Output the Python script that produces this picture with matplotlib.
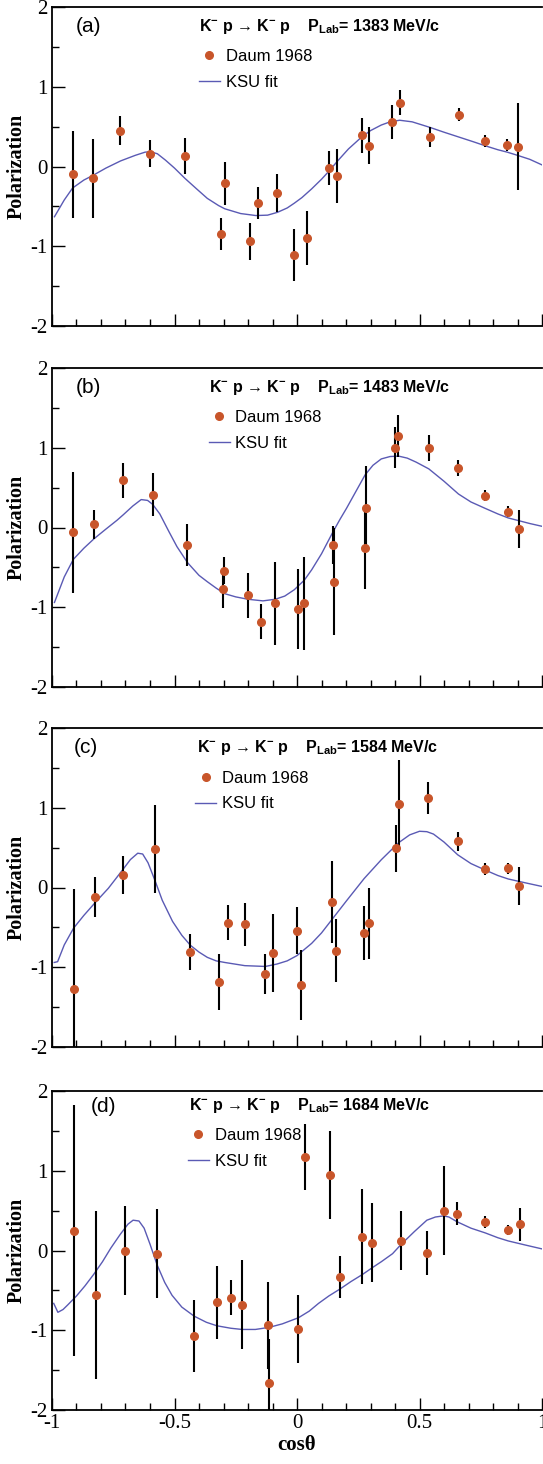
import matplotlib
matplotlib.use("Agg")
import matplotlib.pyplot as plt
from matplotlib.ticker import MultipleLocator

plt.rcParams.update({
    'axes.unicode_minus': False,
    'mathtext.default': 'regular',
    'font.family': ['Liberation Sans', 'DejaVu Sans'],
})

# beam momenta (MeV/c) and panel tags
p_lab = [1383, 1483, 1584, 1684]
panel_tags = ['(a)', '(b)', '(c)', '(d)']

# Daum 1968 data
cos_a = [-0.916, -0.832, -0.724, -0.598, -0.457, -0.310, -0.295, -0.190, -0.160, -0.080, -0.011, 0.040,
         0.129, 0.163, 0.264, 0.293, 0.386, 0.419, 0.543, 0.660, 0.768, 0.858, 0.901]
pol_a = [-0.10, -0.15, 0.45, 0.16, 0.13, -0.85, -0.21, -0.94, -0.46, -0.33, -1.11, -0.90,
         -0.02, -0.12, 0.39, 0.26, 0.56, 0.80, 0.37, 0.65, 0.32, 0.27, 0.25]
err_a = [0.54, 0.49, 0.18, 0.17, 0.23, 0.20, 0.27, 0.23, 0.20, 0.24, 0.33, 0.34,
         0.21, 0.34, 0.22, 0.23, 0.21, 0.16, 0.13, 0.085, 0.07, 0.08, 0.545]

cos_b = [-0.913, -0.828, -0.709, -0.589, -0.447, -0.303, -0.297, -0.202, -0.145, -0.089, 0.004, 0.028,
         0.146, 0.153, 0.278, 0.281, 0.401, 0.413, 0.538, 0.659, 0.768, 0.862, 0.906]
pol_b = [-0.06, 0.04, 0.59, 0.41, -0.22, -0.77, -0.54, -0.85, -1.18, -0.95, -1.02, -0.95,
         -0.22, -0.68, -0.26, 0.25, 1.00, 1.15, 1.00, 0.75, 0.40, 0.20, -0.02]
err_b = [0.76, 0.18, 0.22, 0.27, 0.26, 0.24, 0.17, 0.28, 0.22, 0.52, 0.50, 0.58,
         0.24, 0.67, 0.51, 0.52, 0.26, 0.26, 0.16, 0.10, 0.07, 0.07, 0.24]

cos_c = [-0.912, -0.824, -0.712, -0.580, -0.435, -0.317, -0.283, -0.213, -0.129, -0.099, 0.001, 0.018,
         0.143, 0.160, 0.274, 0.294, 0.406, 0.415, 0.534, 0.656, 0.768, 0.862, 0.908]
pol_c = [-1.27, -0.12, 0.16, 0.48, -0.81, -1.18, -0.44, -0.46, -1.09, -0.82, -0.54, -1.22,
         -0.18, -0.79, -0.57, -0.45, 0.49, 1.05, 1.12, 0.58, 0.23, 0.24, 0.02]
err_c = [1.25, 0.25, 0.24, 0.55, 0.23, 0.35, 0.22, 0.27, 0.25, 0.49, 0.29, 0.44,
         0.51, 0.40, 0.34, 0.45, 0.29, 0.55, 0.20, 0.12, 0.075, 0.065, 0.24]

cos_d = [-0.911, -0.820, -0.703, -0.571, -0.422, -0.327, -0.268, -0.224, -0.118, -0.114, 0.006, 0.033,
         0.134, 0.176, 0.267, 0.308, 0.426, 0.530, 0.598, 0.653, 0.768, 0.862, 0.910]
pol_d = [0.25, -0.56, 0.00, -0.04, -1.07, -0.65, -0.59, -0.68, -0.94, -1.66, -0.98, 1.17,
         0.95, -0.33, 0.17, 0.10, 0.12, -0.03, 0.50, 0.46, 0.36, 0.26, 0.33]
err_d = [1.57, 1.05, 0.56, 0.555, 0.45, 0.46, 0.22, 0.56, 0.55, 0.55, 0.425, 0.41,
         0.55, 0.265, 0.595, 0.50, 0.37, 0.28, 0.555, 0.145, 0.072, 0.064, 0.205]

# KSU fit curves
fit_x_a = [-0.99, -0.95, -0.916, -0.87, -0.832, -0.78, -0.72, -0.66, -0.62, -0.598, -0.57, -0.537, -0.50,
           -0.457, -0.41, -0.366, -0.32, -0.295, -0.23, -0.168, -0.12, -0.08, -0.04, -0.011, 0.02, 0.06,
           0.10, 0.13, 0.163, 0.21, 0.264, 0.30, 0.344, 0.38, 0.419, 0.47, 0.543, 0.60, 0.66, 0.72,
           0.768, 0.82, 0.858, 0.90, 0.95, 1.0]
fit_y_a = [-0.63, -0.42, -0.27, -0.17, -0.11, -0.02, 0.07, 0.14, 0.18, 0.185, 0.16, 0.08, -0.02,
           -0.15, -0.28, -0.40, -0.49, -0.53, -0.59, -0.615, -0.61, -0.575, -0.52, -0.46, -0.39, -0.28,
           -0.16, -0.06, 0.06, 0.22, 0.37, 0.45, 0.52, 0.56, 0.58, 0.56, 0.49, 0.43, 0.37, 0.31,
           0.26, 0.21, 0.18, 0.14, 0.09, 0.02]

fit_x_b = [-0.99, -0.95, -0.913, -0.87, -0.828, -0.78, -0.735, -0.709, -0.67, -0.636, -0.61, -0.589,
           -0.56, -0.523, -0.49, -0.447, -0.40, -0.366, -0.33, -0.295, -0.25, -0.20, -0.139, -0.089,
           -0.05, -0.011, 0.03, 0.06, 0.10, 0.146, 0.175, 0.202, 0.24, 0.278, 0.31, 0.344, 0.38, 0.415,
           0.45, 0.486, 0.538, 0.60, 0.659, 0.71, 0.768, 0.82, 0.862, 0.906, 0.95, 1.0]
fit_y_b = [-0.94, -0.62, -0.40, -0.26, -0.14, -0.02, 0.09, 0.16, 0.27, 0.35, 0.34, 0.29,
           0.17, -0.05, -0.24, -0.44, -0.60, -0.68, -0.76, -0.83, -0.87, -0.90, -0.92, -0.90,
           -0.86, -0.78, -0.66, -0.53, -0.33, -0.06, 0.10, 0.24, 0.45, 0.66, 0.78, 0.86, 0.89, 0.895,
           0.87, 0.82, 0.735, 0.58, 0.42, 0.32, 0.24, 0.17, 0.12, 0.085, 0.05, 0.015]

fit_x_c = [-0.991, -0.977, -0.95, -0.912, -0.87, -0.824, -0.77, -0.712, -0.68, -0.65, -0.63, -0.608,
           -0.58, -0.55, -0.508, -0.47, -0.435, -0.40, -0.366, -0.33, -0.295, -0.213, -0.129, -0.082,
           -0.04, 0.0, 0.06, 0.10, 0.143, 0.202, 0.274, 0.344, 0.415, 0.46, 0.50, 0.53, 0.557, 0.60,
           0.656, 0.71, 0.768, 0.82, 0.862, 0.93, 1.0]
fit_y_c = [-0.94, -0.93, -0.72, -0.51, -0.35, -0.19, -0.01, 0.22, 0.35, 0.43, 0.42, 0.31,
           0.09, -0.16, -0.425, -0.60, -0.725, -0.81, -0.876, -0.92, -0.94, -0.98, -0.99, -0.96,
           -0.92, -0.854, -0.70, -0.57, -0.40, -0.167, 0.112, 0.348, 0.562, 0.66, 0.705, 0.70, 0.67, 0.57,
           0.41, 0.30, 0.219, 0.15, 0.107, 0.06, 0.013]

fit_x_d = [-0.993, -0.976, -0.955, -0.936, -0.90, -0.865, -0.83, -0.794, -0.76, -0.722, -0.69, -0.669,
           -0.645, -0.624, -0.60, -0.571, -0.54, -0.51, -0.47, -0.42, -0.37, -0.327, -0.27, -0.224,
           -0.17, -0.114, -0.06, 0.006, 0.05, 0.088, 0.13, 0.176, 0.22, 0.267, 0.31, 0.344, 0.39, 0.426,
           0.48, 0.53, 0.565, 0.598, 0.62, 0.653, 0.71, 0.768, 0.82, 0.862, 0.93, 1.0]
fit_y_d = [-0.663, -0.775, -0.74, -0.683, -0.57, -0.442, -0.30, -0.141, 0.03, 0.20, 0.33, 0.38,
           0.37, 0.28, 0.08, -0.18, -0.40, -0.562, -0.71, -0.823, -0.90, -0.944, -0.975, -0.99,
           -0.99, -0.964, -0.92, -0.843, -0.76, -0.663, -0.57, -0.482, -0.39, -0.301, -0.21, -0.141, -0.04, 0.08,
           0.24, 0.38, 0.42, 0.434, 0.42, 0.361, 0.28, 0.221, 0.16, 0.12, 0.07, 0.02]

x_ticks = [-1, -0.5, 0, 0.5, 1]
x_tick_labels = ['-1', '-0.5', '0', '0.5', '1']
y_ticks = [-2, -1, 0, 1, 2]
y_tick_labels = ['-2', '-1', '0', '1', '2']

panels = [
    (cos_a, pol_a, err_a, fit_x_a, fit_y_a),
    (cos_b, pol_b, err_b, fit_x_b, fit_y_b),
    (cos_c, pol_c, err_c, fit_x_c, fit_y_c),
    (cos_d, pol_d, err_d, fit_x_d, fit_y_d),
]

# layout (pixels in a 543x1464 picture)
W, H = 543, 1464
left_px, right_px = 52, 542
panel_tops = [7, 368, 728, 1091]
panel_h = 319
# per-panel placement of tag, title and legend (data coords)
tag_pos = [(-0.85, 1.75), (-0.85, 1.75), (-0.86, 1.755), (-0.79, 1.80)]
title_pos = [(-0.40, 1.75), (-0.36, 1.76), (-0.41, 1.755), (-0.44, 1.82)]
legend_pos = [(-0.40, 1.22), (-0.36, 1.22), (-0.415, 1.21), (-0.445, 1.28)]

dot_color = '#c8552a'
fit_color = '#5a5ab4'
serif = ['Liberation Serif', 'DejaVu Serif']

fig = plt.figure(figsize=(W / 100, H / 100), dpi=100)

for i, (cx, py, pe, fx, fy) in enumerate(panels):
    top = panel_tops[i]
    ax = fig.add_axes([left_px / W, 1 - (top + panel_h) / H,
                       (right_px - left_px) / W, panel_h / H])

    ax.plot(fx, fy, color=fit_color, lw=1.0, label='KSU fit', zorder=2)
    ax.errorbar(cx, py, yerr=pe, fmt='none', ecolor='black', elinewidth=1.5, capsize=0, zorder=3)
    ax.plot(cx, py, 'o', color=dot_color, ms=5.5, mec=dot_color, ls='none',
            label='Daum 1968', zorder=4)

    ax.set_xlim(-1, 1)
    ax.set_ylim(-2, 2)

    ax.set_xticks(x_ticks)
    ax.set_yticks(y_ticks, y_tick_labels)
    ax.xaxis.set_minor_locator(MultipleLocator(0.1))
    ax.yaxis.set_minor_locator(MultipleLocator(0.5))
    ax.tick_params(which='both', direction='in', top=False, right=False, width=1.0)
    ax.tick_params(which='major', length=9)
    ax.tick_params(which='minor', length=5)
    ax.tick_params(axis='y', labelsize=15, pad=3)
    for lab in ax.get_yticklabels():
        lab.set_family(serif)
    if i == 3:
        ax.set_xticks(x_ticks, x_tick_labels)
        ax.tick_params(axis='x', labelsize=15, pad=3)
        for lab in ax.get_xticklabels():
            lab.set_family(serif)
        ax.set_xlabel('cosθ', fontfamily=serif, fontweight='bold', fontsize=15, labelpad=1)
    else:
        ax.tick_params(axis='x', labelbottom=False)

    for s in ['left', 'bottom', 'top']:
        ax.spines[s].set_linewidth(1.3)
    ax.spines['right'].set_visible(False)

    ax.set_ylabel('Polarization', fontfamily=serif, fontweight='bold', fontsize=14.5,
                  va='center')
    ax.yaxis.set_label_coords(-0.072, 0.5)

    ax.text(tag_pos[i][0], tag_pos[i][1], panel_tags[i], fontsize=15,
            ha='center', va='center')
    ax.text(title_pos[i][0], title_pos[i][1],
            'K$^{-}$ p → K$^{-}$ p    P$_{Lab}$= %d MeV/c' % p_lab[i],
            fontsize=11.5, fontweight='bold', ha='left', va='center')

    handles, labels = ax.get_legend_handles_labels()
    ax.legend(handles[::-1], labels[::-1], loc='center left',
              bbox_to_anchor=legend_pos[i], bbox_transform=ax.transData,
              frameon=False, fontsize=12, handlelength=1.25, handletextpad=0.35,
              labelspacing=0.65, borderpad=0, borderaxespad=0)

fig.savefig('out.png', dpi=100)
